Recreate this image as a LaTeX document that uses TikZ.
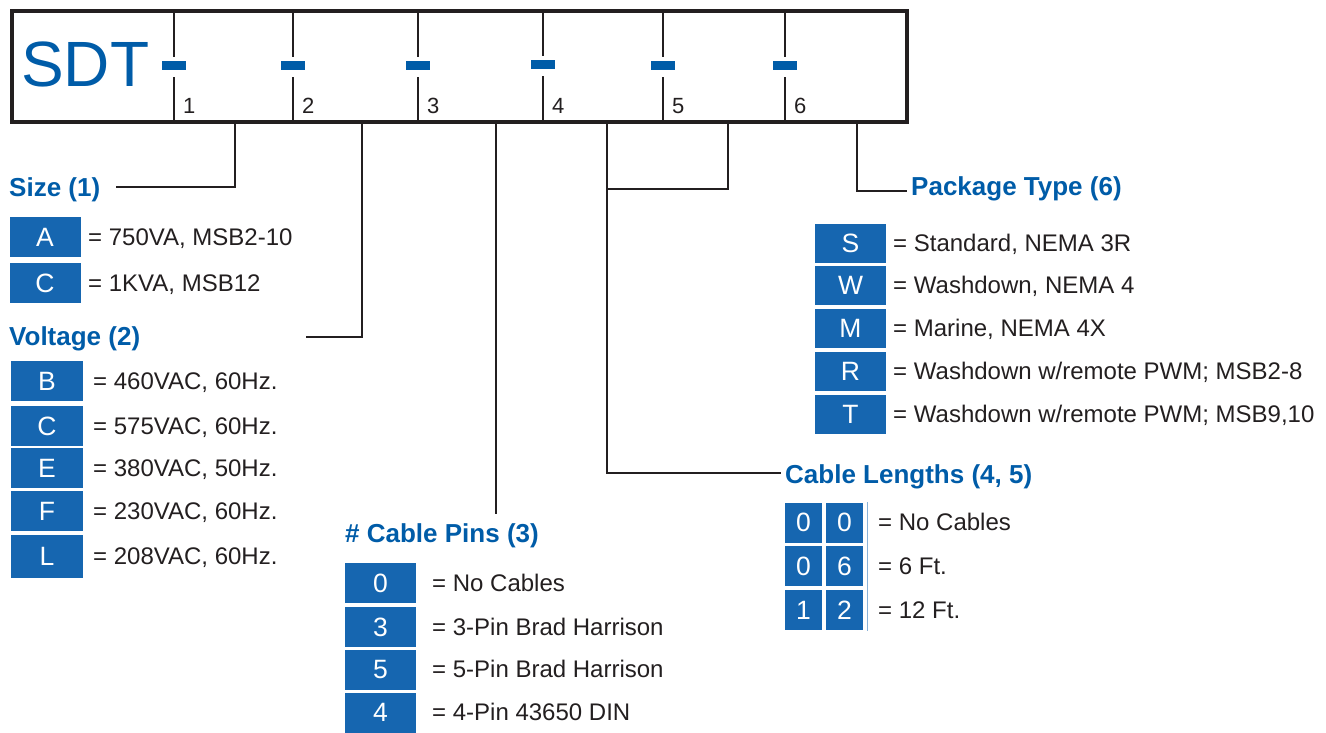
\documentclass[tikz,border=0pt]{standalone}
\usepackage{fontspec}
\setmainfont{Liberation Sans}
\definecolor{boxblue}{RGB}{22,102,176}
\definecolor{headblue}{RGB}{0,92,168}
\definecolor{txt}{RGB}{35,31,32}
\begin{document}
\begin{tikzpicture}[x=1pt,y=-1pt,
  codebox/.style={fill=boxblue, text=white, inner sep=0pt, minimum width=71pt, minimum height=40pt, font=\fontsize{26.5}{26.5}\selectfont},
  smallbox/.style={codebox, minimum width=37pt},
  desc/.style={anchor=base west, text=txt, inner sep=0pt, font=\fontsize{24}{25}\selectfont},
  head/.style={anchor=base west, text=headblue, inner sep=0pt, font=\fontsize{26}{27}\selectfont\bfseries},
  digit/.style={anchor=base west, text=txt, inner sep=0pt, font=\fontsize{22}{22}\selectfont},
  lead/.style={draw=txt, line width=2.3pt},
  divider/.style={draw=txt, line width=2.3pt},
  dashbar/.style={fill=headblue}
]
\useasboundingbox (0,0) rectangle (1326,732);

% main code frame
\node[draw=txt, line width=4.5pt, inner sep=0pt, minimum width=895pt, minimum height=111pt] (frame) at (459.5,66.5) {};
\node[anchor=base west, text=headblue, inner sep=0pt, font=\fontsize{64}{64}\selectfont] (sdt) at (21,86) {SDT};
\foreach \x/\n in {174/1,293/2,418/3,663/5,785/6}{
  \draw[divider] (\x,11) -- (\x,57);
  \draw[divider] (\x,77) -- (\x,122);
  \fill[dashbar] (\x-12,61) rectangle (\x+12,70);
  \node[digit] (d\n) at (\x+9,113) {\n};
}
\draw[divider] (543,11) -- (543,56);
\draw[divider] (543,76) -- (543,122);
\fill[dashbar] (530.5,60) rectangle (555,69);
\node[digit] (d4) at (552,113) {4};

% connector points
\coordinate (b1) at (235,122);
\coordinate (b2) at (362,122);
\coordinate (b3) at (496,122);
\coordinate (b4) at (607,122);
\coordinate (b5) at (728,122);
\coordinate (b6) at (857,122);
\coordinate (e1) at (116,187);
\coordinate (e2) at (306,337);
\coordinate (e3) at (496,514);
\coordinate (e4) at (781,473);
\coordinate (j45) at (607,189);
\coordinate (e6) at (907,191);

\draw[lead] (b1) |- (e1);
\draw[lead] (b2) |- (e2);
\draw[lead] (b3) -- (e3);
\draw[lead] (b4) |- (e4);
\draw[lead] (b5) |- (j45);
\draw[lead] (b6) |- (e6);

% Size
\node[head] (hsize) at (9,196) {Size (1)};
\node[codebox] (sA) at (45,237) {A};
\node[desc] (sAd) at (88,245) {= 750VA, MSB2-10};
\node[codebox] (sC) at (45,283) {C};
\node[desc] (sCd) at (88,291) {= 1KVA, MSB12};

% Voltage
\node[head] (hvolt) at (9,345) {Voltage (2)};
\node[codebox, minimum width=72pt] (vB) at (47,381) {B};
\node[desc] (vBd) at (93,389) {= 460VAC, 60Hz.};
\node[codebox, minimum width=72pt] (vC) at (47,426) {C};
\node[desc] (vCd) at (93,434) {= 575VAC, 60Hz.};
\node[codebox, minimum width=72pt] (vE) at (47,468) {E};
\node[desc] (vEd) at (93,476) {= 380VAC, 50Hz.};
\node[codebox, minimum width=72pt] (vF) at (47,511) {F};
\node[desc] (vFd) at (93,519) {= 230VAC, 60Hz.};
\node[codebox, minimum width=72pt, minimum height=43pt] (vL) at (47,556) {L};
\node[desc] (vLd) at (93,564) {= 208VAC, 60Hz.};

% Cable pins
\node[head] (hpins) at (345,542) {\# Cable Pins (3)};
\node[codebox] (p0) at (380.5,583) {0};
\node[desc] (p0d) at (432,591) {= No Cables};
\node[codebox] (p3) at (380.5,627) {3};
\node[desc] (p3d) at (432,635) {= 3-Pin Brad Harrison};
\node[codebox] (p5) at (380.5,669.5) {5};
\node[desc] (p5d) at (432,677.5) {= 5-Pin Brad Harrison};
\node[codebox] (p4) at (380.5,712.5) {4};
\node[desc] (p4d) at (432,720.5) {= 4-Pin 43650 DIN};

% Cable lengths
\node[head] (hcable) at (785,483) {Cable Lengths (4, 5)};
\node[smallbox] (c00a) at (803.5,522.5) {0};
\node[smallbox] (c00b) at (844.5,522.5) {0};
\node[desc] (c00d) at (878,530.5) {= No Cables};
\node[smallbox] (c06a) at (803.5,566) {0};
\node[smallbox] (c06b) at (844.5,566) {6};
\node[desc] (c06d) at (878,574) {= 6 Ft.};
\node[smallbox] (c12a) at (803.5,610) {1};
\node[smallbox] (c12b) at (844.5,610) {2};
\node[desc] (c12d) at (878,618) {= 12 Ft.};
\draw[boxblue!50, line width=0.8pt] (867,502) -- (867,631);

% Package type
\node[head] (hpack) at (911,195) {Package Type (6)};
\node[codebox, minimum height=39pt] (kS) at (850.5,243) {S};
\node[desc] (kSd) at (893,251) {= Standard, NEMA 3R};
\node[codebox, minimum height=39pt] (kW) at (850.5,285.5) {W};
\node[desc] (kWd) at (893,293.5) {= Washdown, NEMA 4};
\node[codebox, minimum height=39pt] (kM) at (850.5,328.5) {M};
\node[desc] (kMd) at (893,336.5) {= Marine, NEMA 4X};
\node[codebox, minimum height=39pt] (kR) at (850.5,371) {R};
\node[desc] (kRd) at (893,379) {= Washdown w/remote PWM; MSB2-8};
\node[codebox, minimum height=39pt] (kT) at (850.5,414) {T};
\node[desc] (kTd) at (893,422) {= Washdown w/remote PWM; MSB9,10};
\end{tikzpicture}
\end{document}
